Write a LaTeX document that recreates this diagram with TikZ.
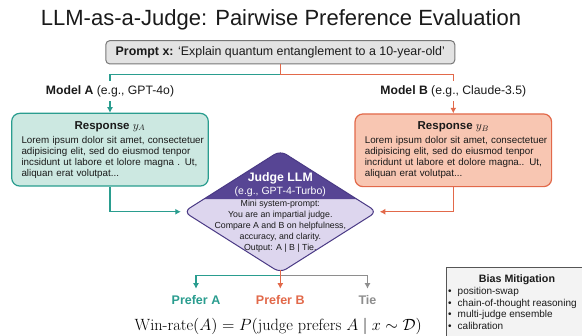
\RequirePackage{fix-cm}
\documentclass[tikz,border=0pt]{standalone}
\usepackage{fontspec}
\usepackage{amsmath}
\setsansfont{Liberation Sans}
\renewcommand{\familydefault}{\sfdefault}
\usetikzlibrary{arrows.meta, positioning, shapes.geometric}

\definecolor{textdark}{HTML}{1A1A1A}
\definecolor{tealline}{HTML}{2A9D8F}
\definecolor{tealfill}{HTML}{CCE8E1}
\definecolor{orangeline}{HTML}{E2694A}
\definecolor{orangefill}{HTML}{F8C6B2}
\definecolor{judgedark}{HTML}{574594}
\definecolor{judgeline}{HTML}{4A3A85}
\definecolor{judgelight}{HTML}{DDD6EE}
\definecolor{promptfill}{HTML}{E3E3E3}
\definecolor{promptline}{HTML}{777777}
\definecolor{tiegray}{HTML}{8E8E8E}
\definecolor{biasfill}{HTML}{F3F3F3}
\definecolor{biasline}{HTML}{555555}

\tikzstyle{prompt} = [rectangle, rounded corners = 4pt, minimum width = 349pt, 
	minimum height = 23.3pt, fill = promptfill, draw = promptline, line width = 1pt]
\tikzstyle{response} = [rectangle, rounded corners = 8pt, minimum width = 196.6pt, 
	minimum height = 72.7pt, text width = 177pt, inner xsep = 9.8pt, align = left, 
	line width = 1.2pt, font = \fontsize{9.8}{11}\selectfont]
\tikzstyle{model} = [font = \fontsize{12.2}{14}\selectfont, inner xsep = 2pt, inner ysep = 4pt]
\tikzstyle{outcome} = [font = \bfseries\fontsize{12.5}{15}\selectfont, 
	inner xsep = 0pt, inner ysep = 6.5pt, anchor = north]
\tikzstyle{arrow} = [line width = 1.2pt, -{Latex[length = 5.5pt, width = 6pt]}]
\tikzstyle{link} = [line width = 1.2pt]

\newcommand{\restitle}[1]{{\centering\bfseries\fontsize{11.5}{13}\selectfont #1\par}\vspace{2.8pt}}
\newcommand{\biasitem}{•\hspace{6pt}}

\begin{document}
\begin{tikzpicture}[x = 1pt, y = -1pt, text = textdark]

\clip (0,0) rectangle (582,336);
\fill [white] (0,0) rectangle (582,336);

\node (title) [font = \fontsize{22}{26}\selectfont] at (281, 20.3) 
	{LLM-as-a-Judge: Pairwise Preference Evaluation};

\node (prompt) [prompt, font = \fontsize{12.4}{14}\selectfont] at (280.3, 52.3) 
	{\textbf{Prompt x:} ‘Explain quantum entanglement to a 10-year-old’};

\node (modelA) [model] at (110, 91.2) {\textbf{Model A} (e.g., GPT-4o)};
\node (modelB) [model] at (453.3, 91.2) {\textbf{Model B} (e.g., Claude-3.5)};

\node (respA) [response, fill = tealfill, draw = tealline] at (110, 149.7)
{
	\restitle{Response $y_A$}\mbox{Lorem ipsum dolor sit amet, consectetuer}\\
	\mbox{adipisicing elit, sed do eiusmod tenpor}\\
	\mbox{incsidunt ut labore et lolore magna . Ut,}\\
	\mbox{aliquan erat volutpat...}
};

\node (respB) [response, fill = orangefill, draw = orangeline] at (453.3, 150.3)
{
	\restitle{Response $y_B$}\mbox{Lorem ipsum dolor sit amet, consectetuer}\\
	\mbox{adipisicing elit, sed do eiusmod tenpor}\\
	\mbox{incridunt ut labore et dolore magna.. Ut,}\\
	\mbox{aliquan erat volutpat...}
};

\node (judge) [diamond, minimum width = 193pt, minimum height = 122pt, 
	inner sep = 0pt, outer sep = 0pt, rounded corners = 7pt, 
	fill = judgelight, draw = judgeline, line width = 1pt, 
	path picture = {\fill [judgedark] (path picture bounding box.north west) 
		rectangle ([yshift = 12.5pt]path picture bounding box.east);}] 
	at (280.3, 211.75) {};

\node (judgehead) [align = center, text = white, font = \fontsize{10.5}{13.5}\selectfont] 
	at (280.3, 184.4) {{\bfseries\fontsize{12.3}{13.5}\selectfont Judge LLM}\\(e.g., GPT-4-Turbo)};
\node (judgebody) [align = center, font = \fontsize{8.8}{11}\selectfont] at (280.3, 226.2)
	{Mini system-prompt:\\You are an impartial judge.\\Compare A and B on helpfulness,\\
	accuracy, and clarity.\\Output: A | B | Tie.};

\node (preferA) [outcome, text = tealline] at (196, 288.7) {Prefer A};
\node (preferB) [outcome, text = orangeline] at (280.3, 288.7) {Prefer B};
\node (tie) [outcome, text = tiegray] at (367.5, 288.7) {Tie};

\node (winrate) [font = \rmfamily\fontsize{16.3}{19}\selectfont, text = black] at (278.3, 326)
	{$\text{Win-rate}(A) = P(\text{judge prefers } A \mid x \sim \mathcal{D})$};

\node (bias) [rectangle, minimum width = 150pt, minimum height = 80pt, fill = biasfill, 
	draw = biasline, line width = 1pt, anchor = north west] at (446, 267.3) {};
\node (biastitle) [font = \bfseries\fontsize{10.7}{13}\selectfont] at (517, 279.9) {Bias Mitigation};
\node (biaslist) [anchor = north west, align = left, inner sep = 2pt, 
	font = \fontsize{10}{11.7}\selectfont] at (446, 285)
	{\biasitem position-swap\\ \biasitem chain-of-thought reasoning\\ 
	\biasitem multi-judge ensemble\\ \biasitem calibration};

\coordinate (split) at ([yshift = -10.3pt]prompt.south);
\coordinate (judgebottom) at ([yshift = 2.3pt]judge.south);
\coordinate (fork) at ([yshift = -5pt]judgebottom);

\draw [link, orangeline] (prompt.south) -- (split) -| (modelB.north);
\draw [link, tealline] (split) -| (modelA.north);
\draw [arrow, tealline] (modelA.south) -- (respA.north);
\draw [arrow, orangeline] (modelB.south) -- (respB.north);

\draw [arrow, tealline, shorten > = 3pt] (respA.south) |- (judge.west);
\draw [arrow, orangeline, shorten > = 3pt] (respB.south) |- (judge.east);

\draw [arrow, tealline] (judgebottom) -- (fork) -| (preferA.north);
\draw [arrow, tiegray] (judgebottom) -- (fork) -| (tie.north);
\draw [arrow, orangeline] (judgebottom) -- (preferB.north);

\end{tikzpicture}
\end{document}
